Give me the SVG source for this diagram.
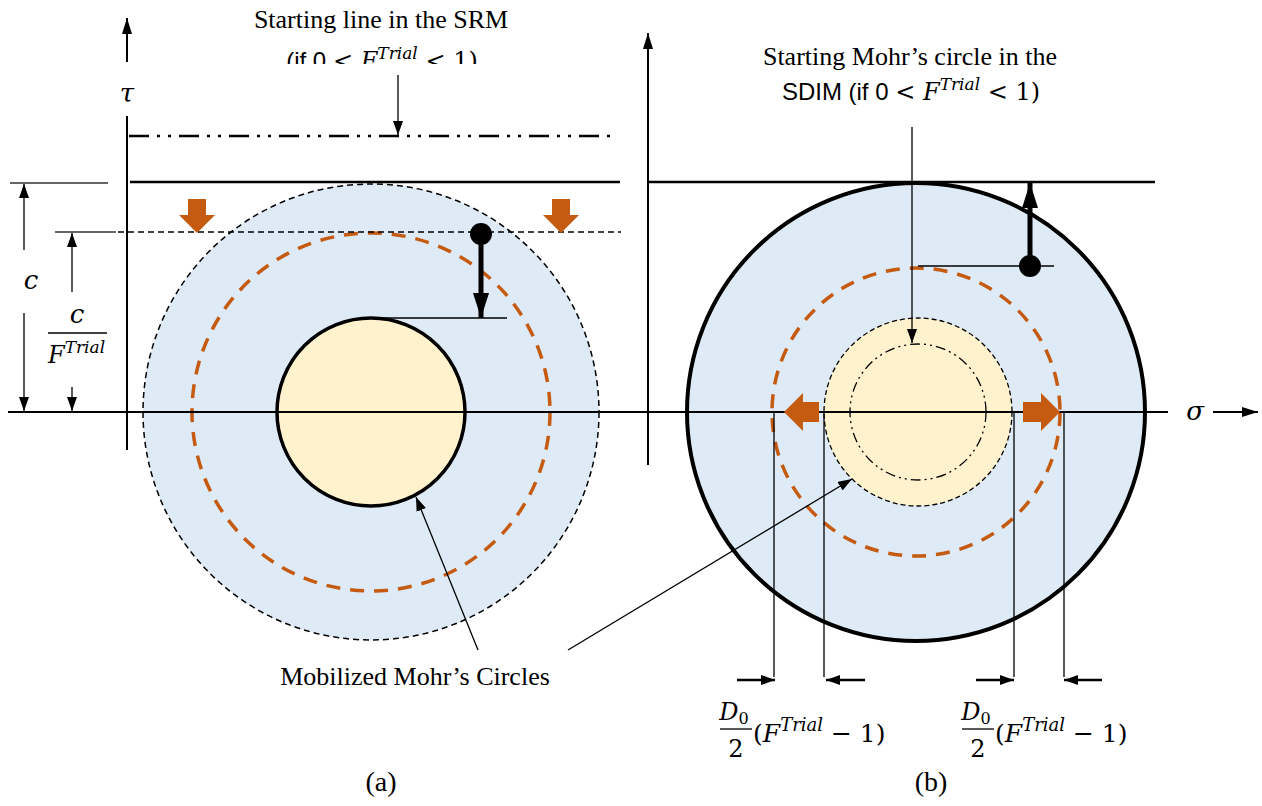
<svg xmlns="http://www.w3.org/2000/svg" width="1262" height="806" viewBox="0 0 1262 806">
<defs>
<style>
.ln{stroke:#000;fill:none}
.serif{font-family:"Liberation Serif","Times New Roman",serif}
.math{font-family:"DejaVu Serif",serif;font-style:italic}
.up{font-family:"DejaVu Serif",serif;font-style:normal}
.sans{font-family:"Liberation Sans",Arial,sans-serif}
.org{fill:#C55A11}
.odash{stroke:#C55A11;stroke-width:3.5;stroke-dasharray:14 10;fill:none}
</style>
<marker id="ah" viewBox="0 0 14 10" refX="14" refY="5" markerWidth="14" markerHeight="10" markerUnits="userSpaceOnUse" orient="auto">
<path d="M0,0 L14,5 L0,10 z" fill="#000"/>
</marker>
<marker id="ahb" viewBox="0 0 16 10" refX="16" refY="5" markerWidth="16" markerHeight="10" markerUnits="userSpaceOnUse" orient="auto">
<path d="M0,0 L16,5 L0,10 z" fill="#000"/>
</marker>
<marker id="ahp" viewBox="0 0 25 16" refX="25" refY="8" markerWidth="25" markerHeight="16" markerUnits="userSpaceOnUse" orient="auto">
<path d="M0,0 L25,8 L0,16 z" fill="#000"/>
</marker>
<clipPath id="clipTop"><rect x="0" y="0" width="640" height="64"/></clipPath>
</defs>
<rect width="1262" height="806" fill="#fff"/>

<!-- Left panel circles -->
<g id="left-outer-circle">
<circle cx="371" cy="412" r="228" fill="#DEEAF6" stroke="#000" stroke-width="1.5" stroke-dasharray="6 4"/>
</g>
<g id="left-orange-circle">
<circle cx="371" cy="412" r="179" class="odash"/>
</g>
<g id="left-inner-circle">
<circle cx="371" cy="412" r="94" fill="#FFF2CC" stroke="#000" stroke-width="3.5"/>
</g>

<!-- Right panel circles -->
<g id="right-outer-circle">
<circle cx="916" cy="412" r="229" fill="#DEEAF6" stroke="#000" stroke-width="4"/>
</g>
<g id="right-orange-circle">
<circle cx="916" cy="412" r="144" class="odash"/>
</g>
<g id="right-inner-circle">
<circle cx="918" cy="412" r="94" fill="#FFF2CC" stroke="#000" stroke-width="1.3" stroke-dasharray="5 3"/>
</g>
<g id="right-start-circle">
<circle cx="918" cy="412" r="68" fill="none" stroke="#000" stroke-width="1.3" stroke-dasharray="10 4 2 4 2 4"/>
</g>

<!-- Left panel lines -->
<g id="left-lines">
<line x1="129" y1="136" x2="615" y2="136" class="ln" stroke-width="2.5" stroke-dasharray="20 8 3 8 3 8"/>
<line x1="130" y1="182" x2="620" y2="182" class="ln" stroke-width="2.5"/>
<line x1="118" y1="232" x2="621" y2="232" class="ln" stroke-width="1.3" stroke-dasharray="6 4"/>
<line x1="371" y1="318" x2="507" y2="318" class="ln" stroke-width="1.3"/>
</g>

<!-- Right panel lines -->
<g id="right-lines">
<line x1="648" y1="182" x2="1155" y2="182" class="ln" stroke-width="2.5"/>
<line x1="918" y1="266" x2="1054" y2="266" class="ln" stroke-width="1.3"/>
</g>

<!-- Axes -->
<g id="axes">
<line x1="8" y1="412" x2="1168" y2="412" class="ln" stroke-width="2"/>
<line x1="1213" y1="412" x2="1258" y2="412" class="ln" stroke-width="2" marker-end="url(#ahb)"/>
<line x1="127" y1="62" x2="127" y2="18" class="ln" stroke-width="2" marker-end="url(#ahb)"/>
<line x1="127" y1="116" x2="127" y2="450" class="ln" stroke-width="2"/>
<line x1="648" y1="465" x2="648" y2="33" class="ln" stroke-width="2" marker-end="url(#ahb)"/>
</g>

<!-- Orange block arrows -->
<g id="orange-arrows" class="org">
<path d="M188,199 H206 V215 H215 L197,233 L179,215 H188 Z"/>
<path d="M552,199 H570 V215 H579 L561,233 L543,215 H552 Z"/>
<path d="M819,402 V422 H803 V431 L784,412 L803,393 V402 Z"/>
<path d="M1023,402 V422 H1041 V431 L1060,412 L1041,393 V402 Z"/>
</g>

<!-- Pins -->
<g id="left-pin">
<circle cx="481" cy="234" r="11" fill="#000"/>
<line x1="481" y1="234" x2="481" y2="318" class="ln" stroke-width="5" marker-end="url(#ahp)"/>
</g>
<g id="right-pin">
<circle cx="1030" cy="266" r="11" fill="#000"/>
<line x1="1030" y1="266" x2="1030" y2="183" class="ln" stroke-width="5" marker-end="url(#ahp)"/>
</g>

<!-- Connectors -->
<g id="connectors">
<line x1="398" y1="75" x2="398" y2="135" class="ln" stroke-width="1.3" marker-end="url(#ah)"/>
<line x1="912" y1="127" x2="912" y2="343" class="ln" stroke-width="1.3" marker-end="url(#ah)"/>
<line x1="478" y1="650" x2="416" y2="497" class="ln" stroke-width="1.3" marker-end="url(#ah)"/>
<line x1="568" y1="650" x2="852" y2="479" class="ln" stroke-width="1.3" marker-end="url(#ah)"/>
<!-- left dimensions -->
<line x1="10" y1="183" x2="108" y2="183" stroke="#333" stroke-width="1.5"/>
<line x1="55" y1="232" x2="116" y2="232" stroke="#333" stroke-width="1.5"/>
<line x1="24" y1="250" x2="24" y2="184" class="ln" stroke-width="1.3" marker-end="url(#ah)"/>
<line x1="24" y1="313" x2="24" y2="411" class="ln" stroke-width="1.3" marker-end="url(#ah)"/>
<line x1="72" y1="292" x2="72" y2="233" class="ln" stroke-width="1.3" marker-end="url(#ah)"/>
<line x1="72" y1="387" x2="72" y2="411" class="ln" stroke-width="1.3" marker-end="url(#ah)"/>
<!-- right dimensions -->
<line x1="774" y1="412" x2="774" y2="677" class="ln" stroke-width="1.3"/>
<line x1="824" y1="412" x2="824" y2="677" class="ln" stroke-width="1.3"/>
<line x1="1014" y1="412" x2="1014" y2="677" class="ln" stroke-width="1.3"/>
<line x1="1064" y1="412" x2="1064" y2="677" class="ln" stroke-width="1.3"/>
<line x1="737" y1="680" x2="775" y2="680" class="ln" stroke-width="2.5" marker-end="url(#ah)"/>
<line x1="865" y1="680" x2="826" y2="680" class="ln" stroke-width="2.5" marker-end="url(#ah)"/>
<line x1="976" y1="680" x2="1014" y2="680" class="ln" stroke-width="2.5" marker-end="url(#ah)"/>
<line x1="1102" y1="680" x2="1064" y2="680" class="ln" stroke-width="2.5" marker-end="url(#ah)"/>
<line x1="48" y1="333" x2="107" y2="333" class="ln" stroke-width="1.5"/>
<line x1="720" y1="729" x2="752" y2="729" class="ln" stroke-width="1.3"/>
<line x1="962" y1="729" x2="994" y2="729" class="ln" stroke-width="1.3"/>
</g>

<!-- Texts -->
<g id="labels">
<text x="381" y="28" class="serif" font-size="26" text-anchor="middle">Starting line in the SRM</text>
<g clip-path="url(#clipTop)">
<text x="382" y="69" font-size="24" text-anchor="middle"><tspan class="sans">(if 0 </tspan><tspan class="up">&lt; </tspan><tspan class="math">F</tspan><tspan class="math" font-size="17" dy="-10">Trial</tspan><tspan class="up" dy="10"> &lt; 1)</tspan></text>
</g>
<text x="127" y="102" class="math" font-size="26" text-anchor="middle">τ</text>
<text x="910" y="65" class="serif" font-size="26" text-anchor="middle">Starting Mohr’s circle in the</text>
<text x="911" y="100" font-size="24" text-anchor="middle"><tspan class="sans">SDIM (if 0 </tspan><tspan class="up">&lt; </tspan><tspan class="math">F</tspan><tspan class="math" font-size="17" dy="-10">Trial</tspan><tspan class="up" dy="10"> &lt; 1)</tspan></text>
<text x="1195" y="420" class="math" font-size="26" text-anchor="middle">σ</text>
<text x="31" y="289" class="math" font-size="26" text-anchor="middle">c</text>
<text x="77" y="323" class="math" font-size="26" text-anchor="middle">c</text>
<text x="48" y="363" class="math" font-size="24">F<tspan font-size="17" dy="-10">Trial</tspan></text>
<text x="415" y="685" class="serif" font-size="26" text-anchor="middle">Mobilized Mohr’s Circles</text>
<text x="381" y="791" class="serif" font-size="28" text-anchor="middle">(a)</text>
<text x="931" y="791" class="serif" font-size="28" text-anchor="middle">(b)</text>
<!-- D0/2 labels -->
<text x="734" y="720" class="math" font-size="24" text-anchor="middle">D<tspan class="up" font-size="16" dy="4">0</tspan></text>
<text x="736" y="757" class="up" font-size="24" text-anchor="middle">2</text>
<text x="753" y="742" font-size="25"><tspan class="up">(</tspan><tspan class="math">F</tspan><tspan class="math" font-size="18" dy="-11">Trial</tspan><tspan class="up" dy="11"> − 1)</tspan></text>
<text x="976" y="720" class="math" font-size="24" text-anchor="middle">D<tspan class="up" font-size="16" dy="4">0</tspan></text>
<text x="978" y="757" class="up" font-size="24" text-anchor="middle">2</text>
<text x="995" y="742" font-size="25"><tspan class="up">(</tspan><tspan class="math">F</tspan><tspan class="math" font-size="18" dy="-11">Trial</tspan><tspan class="up" dy="11"> − 1)</tspan></text>
</g>
</svg>
